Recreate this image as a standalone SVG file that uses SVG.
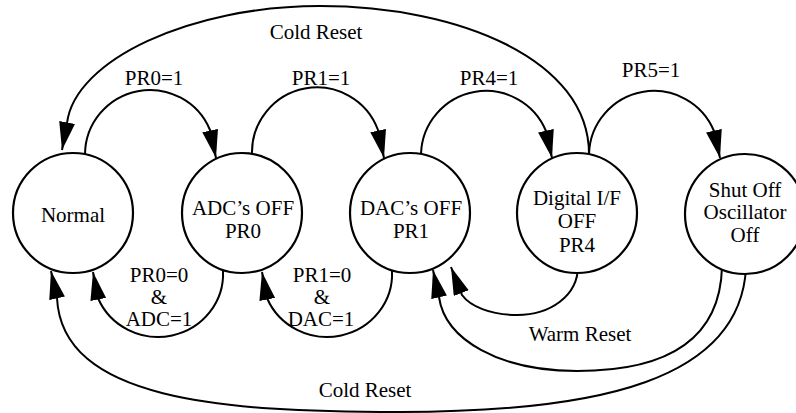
<svg xmlns="http://www.w3.org/2000/svg" width="796" height="413" viewBox="0 0 796 413">
  <style>
    .node { fill: #ffffff; stroke: #000000; stroke-width: 2.2; }
    .edge { fill: none; stroke: #000000; stroke-width: 2; marker-end: url(#ah); }
    .lbl { font-family: "Liberation Serif", "Tinos", "Times New Roman", "DejaVu Serif", serif; font-size: 21px; fill: #000000; text-anchor: middle; }
  </style>
  <defs>
    <marker id="ah" markerUnits="userSpaceOnUse" markerWidth="30" markerHeight="18" viewBox="0 0 30 18" refX="28" refY="8" orient="auto">
      <path d="M0,0 L28,8 L0,16 z" fill="#000000"/>
    </marker>
  </defs>
  <rect x="0" y="0" width="796" height="413" fill="#ffffff"/>

  <g id="connectors">
    <path class="edge" d="M85,154 A65,65 0 0 1 210,130 L216,158"/>
    <path class="edge" d="M252,154 A65,65 0 0 1 378,130 L384,158"/>
    <path class="edge" d="M421,154 A65,65 0 0 1 546,131 L552,158"/>
    <path class="edge" d="M589,154 A65,65 0 0 1 714,131 L720,158"/>
    <path class="edge" d="M223,271 A65,63 0 0 1 98,298 L93,272"/>
    <path class="edge" d="M392,271 A65,63 0 0 1 267,298 L262,272"/>
    <path class="edge" d="M578,266 C578,296 550,315 517,315 C490,315 470,306 462,295 L451,267"/>
    <path class="edge" d="M722,267 C720,345 660,371 577,371 C500,371 445,340 439,297 L433,270"/>
    <path class="edge" d="M589,154 C589,60 460,6 320,6 C190,6 75,60 67,123 L62,150"/>
    <path class="edge" d="M746,268 C740,380 600,412 400,412 C220,412 62,400 57,298 L51,271"/>

    <g id="edge-labels">
      <text class="lbl" x="316" y="39">Cold Reset</text>
      <text class="lbl" x="154" y="85">PR0=1</text>
      <text class="lbl" x="321" y="85">PR1=1</text>
      <text class="lbl" x="489" y="85">PR4=1</text>
      <text class="lbl" x="651" y="77">PR5=1</text>
      <text class="lbl" x="159" y="282">PR0=0</text>
      <text class="lbl" x="159" y="304">&amp;</text>
      <text class="lbl" x="159" y="326">ADC=1</text>
      <text class="lbl" x="322" y="282">PR1=0</text>
      <text class="lbl" x="322" y="304">&amp;</text>
      <text class="lbl" x="321" y="326">DAC=1</text>
      <text class="lbl" x="580" y="341">Warm Reset</text>
      <text class="lbl" x="365" y="397">Cold Reset</text>
    </g>
  </g>

  <g id="node-normal">
    <circle class="node" cx="73" cy="213" r="60"/>
    <text class="lbl" x="73" y="222">Normal</text>
  </g>
  <g id="node-adc-off">
    <circle class="node" cx="242" cy="213" r="60"/>
    <text class="lbl" x="243" y="215">ADC’s OFF</text>
    <text class="lbl" x="243" y="238">PR0</text>
  </g>
  <g id="node-dac-off">
    <circle class="node" cx="410" cy="213" r="60"/>
    <text class="lbl" x="411" y="215">DAC’s OFF</text>
    <text class="lbl" x="411" y="238">PR1</text>
  </g>
  <g id="node-digital-off">
    <circle class="node" cx="577" cy="213" r="60"/>
    <text class="lbl" x="577" y="205">Digital I/F</text>
    <text class="lbl" x="577" y="228">OFF</text>
    <text class="lbl" x="577" y="252">PR4</text>
  </g>
  <g id="node-shutoff">
    <circle class="node" cx="745" cy="214" r="60"/>
    <text class="lbl" x="745" y="197">Shut Off</text>
    <text class="lbl" x="745" y="219">Oscillator</text>
    <text class="lbl" x="745" y="242">Off</text>
  </g>
</svg>
